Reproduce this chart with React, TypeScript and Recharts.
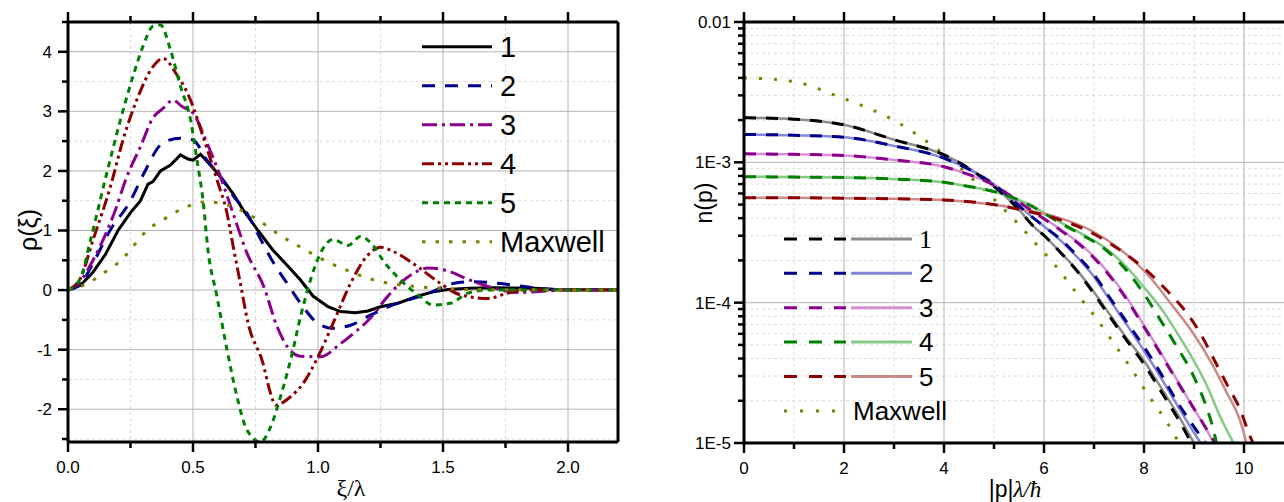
import React from "react";
import { CartesianGrid, Legend, Line, LineChart, XAxis, YAxis } from "recharts";

const SANS = "'Liberation Sans', Arial, Helvetica, sans-serif";
const SERIF = "'Liberation Serif', 'Times New Roman', serif";

type Pt = [number, number];

// ---------- left panel: rho(xi) ----------
const xiTicks = [0, 0.25, 0.5, 0.75, 1, 1.25, 1.5, 1.75, 2];
const xiMajor = [0, 0.5, 1, 1.5, 2];
const xiGridMajor = [0.5, 1, 1.5, 2];
const xiGridMinor = [0.25, 0.75, 1.25, 1.75];
const rhoTicks = [-2.5, -2, -1.5, -1, -0.5, 0, 0.5, 1, 1.5, 2, 2.5, 3, 3.5, 4, 4.5];
const rhoMajor = [-2, -1, 0, 1, 2, 3, 4];
const rhoGridMinor = [-2.5, -1.5, -0.5, 0.5, 1.5, 2.5, 3.5];

const rho1: Pt[] = [
  [0, 0], [0.05, 0.08], [0.1, 0.3], [0.15, 0.6], [0.2, 1.0], [0.25, 1.3], [0.29, 1.5], [0.32, 1.78],
  [0.34, 1.82], [0.37, 2.0], [0.41, 2.1], [0.45, 2.27], [0.48, 2.2], [0.5, 2.18], [0.53, 2.28],
  [0.58, 2.05], [0.62, 1.85], [0.66, 1.62], [0.7, 1.35], [0.76, 1.0], [0.82, 0.67], [0.88, 0.4],
  [0.93, 0.17], [0.98, -0.1], [1.04, -0.28], [1.09, -0.36], [1.15, -0.38], [1.2, -0.35], [1.25, -0.28],
  [1.32, -0.22], [1.4, -0.1], [1.46, -0.03], [1.52, 0.01], [1.6, 0.03], [1.7, 0.04], [1.87, 0.03],
  [1.95, 0.01], [2.2, 0],
];
const rho2: Pt[] = [
  [0, 0], [0.05, 0.1], [0.1, 0.45], [0.168, 1.0], [0.25, 1.5], [0.3, 1.93], [0.38, 2.47], [0.45, 2.55],
  [0.5, 2.52], [0.556, 2.18], [0.61, 1.9], [0.663, 1.57], [0.716, 1.29], [0.757, 0.96], [0.823, 0.45],
  [0.877, 0.11], [0.93, -0.22], [1.0, -0.56], [1.06, -0.64], [1.13, -0.59], [1.21, -0.42], [1.3, -0.25],
  [1.44, -0.06], [1.54, 0.11], [1.62, 0.14], [1.73, 0.11], [1.84, 0.05], [1.95, 0.01], [2.2, 0],
];
const rho3: Pt[] = [
  [0, 0], [0.05, 0.15], [0.1, 0.5], [0.14, 0.84], [0.19, 1.35], [0.235, 1.9], [0.29, 2.41], [0.34, 2.89],
  [0.38, 3.05], [0.42, 3.19], [0.456, 3.08], [0.5, 2.97], [0.556, 2.47], [0.61, 1.9], [0.66, 1.29],
  [0.716, 0.62], [0.783, 0.06], [0.837, -0.62], [0.877, -0.95], [0.93, -1.11], [1.01, -1.12],
  [1.09, -0.9], [1.15, -0.7], [1.21, -0.47], [1.27, -0.15], [1.33, 0.12], [1.39, 0.3], [1.44, 0.37],
  [1.52, 0.32], [1.6, 0.18], [1.68, 0.06], [1.81, -0.04], [1.9, -0.02], [2.0, 0], [2.2, 0],
];
const rho4: Pt[] = [
  [0, 0], [0.05, 0.2], [0.1, 0.84], [0.17, 1.74], [0.22, 2.52], [0.275, 3.19], [0.34, 3.75], [0.38, 3.89],
  [0.436, 3.61], [0.49, 3.19], [0.54, 2.58], [0.596, 1.85], [0.636, 1.29], [0.66, 0.75], [0.69, 0.1],
  [0.72, -0.55], [0.78, -1.23], [0.81, -1.73], [0.83, -1.93], [0.89, -1.79], [0.94, -1.57], [1.0, -1.12],
  [1.06, -0.56], [1.13, 0.11], [1.2, 0.59], [1.25, 0.72], [1.3, 0.65], [1.4, 0.39], [1.49, 0.11],
  [1.57, -0.08], [1.68, -0.14], [1.76, -0.05], [1.85, 0], [2.2, 0],
];
const rho5: Pt[] = [
  [0, 0], [0.05, 0.2], [0.09, 0.84], [0.155, 1.96], [0.21, 2.86], [0.26, 3.59], [0.3, 4.09], [0.34, 4.43],
  [0.37, 4.45], [0.41, 4.03], [0.45, 3.42], [0.49, 2.86], [0.516, 2.18], [0.54, 1.51], [0.56, 0.67],
  [0.596, -0.11], [0.636, -1.0], [0.676, -1.79], [0.716, -2.35], [0.77, -2.55], [0.81, -2.3],
  [0.85, -1.79], [0.89, -1.18], [0.93, -0.45], [0.97, 0.17], [1.01, 0.62], [1.06, 0.85], [1.12, 0.75],
  [1.17, 0.9], [1.22, 0.75], [1.26, 0.5], [1.33, 0.17], [1.4, -0.08], [1.46, -0.25], [1.53, -0.22],
  [1.6, -0.05], [1.68, 0], [2.2, 0],
];
const rhoMaxwell: Pt[] = [
  [0, 0], [0.04, 0.05], [0.08, 0.11], [0.128, 0.25], [0.19, 0.42], [0.235, 0.6], [0.26, 0.73],
  [0.315, 1.0], [0.38, 1.18], [0.476, 1.4], [0.55, 1.48], [0.61, 1.46], [0.676, 1.37], [0.77, 1.15],
  [0.837, 0.95], [0.93, 0.72], [1.05, 0.45], [1.13, 0.31], [1.2, 0.2], [1.29, 0.11], [1.37, 0.07],
  [1.49, 0.03], [1.6, 0.01], [2.2, 0],
];

// ---------- right panel: n(p), log scale ----------
const pTicks = [0, 1, 2, 3, 4, 5, 6, 7, 8, 9, 10];
const pMajor = [0, 2, 4, 6, 8, 10];
const pGridMajor = [2, 4, 6, 8, 10];
const pGridMinor = [1, 3, 5, 7, 9];
const nDecades = [1e-5, 1e-4, 1e-3, 1e-2];
const nDecadeLabels = ["1E-5", "1E-4", "1E-3", "0.01"];
const nMinor = [
  2e-5, 3e-5, 4e-5, 5e-5, 6e-5, 7e-5, 8e-5, 9e-5,
  2e-4, 3e-4, 4e-4, 5e-4, 6e-4, 7e-4, 8e-4, 9e-4,
  2e-3, 3e-3, 4e-3, 5e-3, 6e-3, 7e-3, 8e-3, 9e-3,
];
const nTicks = [...nDecades, ...nMinor].sort((a, b) => a - b);

const n1Dash: Pt[] = [
  [0, 2.08e-3], [1, 2.03e-3], [2, 1.85e-3], [3, 1.45e-3], [4, 1.13e-3], [4.32, 9.9e-4], [4.72, 8.0e-4],
  [5.12, 6.2e-4], [5.45, 4.8e-4], [5.79, 3.5e-4], [6.05, 2.9e-4], [6.32, 2.3e-4], [6.65, 1.7e-4],
  [6.99, 1.17e-4], [7.32, 7.9e-5], [7.65, 5.4e-5], [7.99, 3.7e-5], [8.32, 2.4e-5], [8.65, 1.55e-5],
  [8.95, 1.0e-5],
];
const n1Solid: Pt[] = [
  [0, 2.08e-3], [1, 2.03e-3], [2, 1.85e-3], [3, 1.45e-3], [4, 1.13e-3], [4.32, 9.9e-4], [4.72, 8.0e-4],
  [5.12, 6.2e-4], [5.45, 4.8e-4], [5.79, 3.5e-4], [6.05, 2.9e-4], [6.32, 2.3e-4], [6.65, 1.72e-4],
  [6.99, 1.2e-4], [7.32, 8.2e-5], [7.65, 5.6e-5], [7.99, 3.9e-5], [8.32, 2.55e-5], [8.65, 1.65e-5],
  [9.0, 1.0e-5],
];
const n2Dash: Pt[] = [
  [0, 1.58e-3], [1, 1.56e-3], [2, 1.51e-3], [3, 1.31e-3], [4, 1.07e-3], [4.5, 8.9e-4], [4.99, 7.0e-4],
  [5.32, 5.6e-4], [5.65, 4.4e-4], [6.0, 3.5e-4], [6.32, 2.85e-4], [6.59, 2.3e-4], [6.99, 1.6e-4],
  [7.32, 1.08e-4], [7.65, 7.3e-5], [7.99, 4.9e-5], [8.32, 3.2e-5], [8.65, 2.0e-5], [8.99, 1.32e-5],
  [9.23, 1.0e-5],
];
const n2Solid: Pt[] = [
  [0, 1.58e-3], [1, 1.56e-3], [2, 1.51e-3], [3, 1.31e-3], [4, 1.07e-3], [4.5, 8.9e-4], [4.99, 7.0e-4],
  [5.32, 5.6e-4], [5.65, 4.4e-4], [6.0, 3.5e-4], [6.32, 2.8e-4], [6.59, 2.25e-4], [6.99, 1.55e-4],
  [7.32, 1.04e-4], [7.65, 7.0e-5], [7.99, 4.6e-5], [8.32, 3.0e-5], [8.65, 1.9e-5], [8.99, 1.2e-5],
  [9.13, 1.0e-5],
];
const n3Dash: Pt[] = [
  [0, 1.15e-3], [1, 1.14e-3], [2, 1.12e-3], [3, 1.04e-3], [4, 9.3e-4], [4.32, 8.6e-4], [4.99, 6.9e-4],
  [5.65, 4.8e-4], [6.32, 3.3e-4], [6.79, 2.46e-4], [6.99, 2.1e-4], [7.32, 1.54e-4], [7.65, 1.06e-4],
  [7.99, 6.8e-5], [8.32, 4.4e-5], [8.65, 2.8e-5], [8.99, 1.78e-5], [9.25, 1.26e-5], [9.42, 1.0e-5],
];
const n3Solid: Pt[] = [
  [0, 1.15e-3], [1, 1.14e-3], [2, 1.12e-3], [3, 1.04e-3], [4, 9.3e-4], [4.32, 8.6e-4], [4.99, 6.9e-4],
  [5.65, 4.8e-4], [6.32, 3.35e-4], [6.79, 2.5e-4], [6.99, 2.15e-4], [7.32, 1.58e-4], [7.65, 1.09e-4],
  [7.99, 7.0e-5], [8.32, 4.5e-5], [8.65, 2.85e-5], [8.99, 1.78e-5], [9.25, 1.24e-5], [9.4, 1.0e-5],
];
const n4Dash: Pt[] = [
  [0, 7.9e-4], [1, 7.85e-4], [2, 7.8e-4], [3, 7.6e-4], [4, 7.2e-4], [4.32, 6.9e-4], [4.99, 6.2e-4],
  [5.65, 5.1e-4], [6.32, 3.7e-4], [6.75, 3.05e-4], [7.19, 2.45e-4], [7.65, 1.7e-4], [7.99, 1.17e-4],
  [8.32, 7.6e-5], [8.65, 4.9e-5], [8.99, 3.0e-5], [9.25, 1.8e-5], [9.39, 1.24e-5], [9.45, 1.0e-5],
];
const n4Solid: Pt[] = [
  [0, 7.9e-4], [1, 7.85e-4], [2, 7.8e-4], [3, 7.6e-4], [4, 7.2e-4], [4.32, 6.9e-4], [4.99, 6.2e-4],
  [5.65, 5.1e-4], [6.32, 3.75e-4], [6.75, 3.1e-4], [7.19, 2.5e-4], [7.65, 1.8e-4], [7.99, 1.3e-4],
  [8.32, 9.3e-5], [8.65, 6.2e-5], [8.99, 3.9e-5], [9.25, 2.6e-5], [9.52, 1.55e-5], [9.79, 1.0e-5],
];
const n5Dash: Pt[] = [
  [0, 5.6e-4], [1, 5.6e-4], [2, 5.55e-4], [3, 5.5e-4], [4, 5.4e-4], [4.99, 5.0e-4], [5.65, 4.5e-4],
  [6.32, 3.9e-4], [6.99, 3.1e-4], [7.35, 2.6e-4], [7.65, 2.2e-4], [8.05, 1.7e-4], [8.45, 1.23e-4],
  [8.85, 8.5e-5], [9.12, 6.1e-5], [9.39, 4.0e-5], [9.65, 2.65e-5], [9.92, 1.74e-5], [10.12, 1.12e-5],
  [10.18, 1.0e-5],
];
const n5Solid: Pt[] = [
  [0, 5.6e-4], [1, 5.6e-4], [2, 5.55e-4], [3, 5.5e-4], [4, 5.4e-4], [4.99, 5.0e-4], [5.65, 4.55e-4],
  [6.32, 4.0e-4], [6.99, 3.2e-4], [7.52, 2.4e-4], [8.05, 1.62e-4], [8.59, 9.3e-5], [8.99, 6.0e-5],
  [9.39, 3.5e-5], [9.65, 2.3e-5], [9.92, 1.45e-5], [10.05, 1.0e-5],
];
const nMaxwell: Pt[] = [
  [0, 4.0e-3], [1, 3.76e-3], [1.88, 2.95e-3], [2.45, 2.46e-3], [2.99, 2.0e-3], [3.52, 1.52e-3],
  [4.05, 1.1e-3], [4.52, 7.9e-4], [4.99, 5.5e-4], [5.42, 3.85e-4], [5.85, 2.6e-4], [6.25, 1.8e-4],
  [6.65, 1.17e-4], [7.05, 7.7e-5], [7.42, 5.0e-5], [7.79, 3.2e-5], [8.12, 2.1e-5], [8.49, 1.35e-5],
  [8.7, 1.0e-5],
];

const toRows = (pts: Pt[]) => pts.map(([x, y]) => ({ x, y }));

const leftSeries = [
  { name: "1", data: rho1, color: "#000000", dash: undefined as string | undefined },
  { name: "2", data: rho2, color: "#00008b", dash: "13 10" },
  { name: "3", data: rho3, color: "#8b008b", dash: "15 5 3 5" },
  { name: "4", data: rho4, color: "#8b0000", dash: "12 4 3 4 3 4" },
  { name: "5", data: rho5, color: "#008000", dash: "6 5" },
  { name: "Maxwell", data: rhoMaxwell, color: "#808000", dash: "3.5 10" },
];

const rightSeries = [
  { name: "1", dash: n1Dash, solid: n1Solid, dark: "#000000", light: "#8c8c8c" },
  { name: "2", dash: n2Dash, solid: n2Solid, dark: "#00008b", light: "#8585d6" },
  { name: "3", dash: n3Dash, solid: n3Solid, dark: "#8b008b", light: "#d58fd5" },
  { name: "4", dash: n4Dash, solid: n4Solid, dark: "#008000", light: "#85c985" },
  { name: "5", dash: n5Dash, solid: n5Solid, dark: "#8b0000", light: "#c98a8a" },
];

const axisLine = { stroke: "#000", strokeWidth: 3 };

// custom ticks: tickSize/tickMargin are 0, so x/y arrive on the axis line
const tickFactory =
  (side: "bottom" | "top" | "left", majors: number[], fmt: ((v: number) => string) | null, gap = 6) =>
  (props: any) => {
    const { x, y, payload } = props;
    const v = payload.value;
    const major = majors.includes(v);
    const len = major ? 10 : 6;
    if (side === "left") {
      return (
        <g>
          <line x1={x} y1={y} x2={x - len} y2={y} stroke="#000" strokeWidth={2.5} />
          {major && fmt && (
            <text x={x - len - gap} y={y} dy="0.35em" textAnchor="end" fontSize={17} fontFamily={SANS} fill="#000">
              {fmt(v)}
            </text>
          )}
        </g>
      );
    }
    const dir = side === "top" ? -1 : 1;
    return (
      <g>
        <line x1={x} y1={y} x2={x} y2={y + dir * len} stroke="#000" strokeWidth={2.5} />
        {major && fmt && side === "bottom" && (
          <text x={x} y={y + 31} textAnchor="middle" fontSize={17} fontFamily={SANS} fill="#000">
            {fmt(v)}
          </text>
        )}
      </g>
    );
  };

const fmtLog = (v: number) => nDecadeLabels[nDecades.indexOf(v)] ?? "";

function LeftLegend() {
  return (
    <svg width={210} height={240} style={{ overflow: "visible" }}>
      {leftSeries.map((s, i) => {
        const y = 21.7 + 39 * i;
        return (
          <g key={s.name}>
            <line x1={7} x2={77} y1={y} y2={y} stroke={s.color} strokeWidth={3} strokeDasharray={s.dash} />
            <text x={85} y={y} dy="0.35em" fontSize={29} fontFamily={SANS} fill="#000">
              {s.name}
            </text>
          </g>
        );
      })}
    </svg>
  );
}

function RightLegend() {
  return (
    <svg width={200} height={210} style={{ overflow: "visible" }}>
      {rightSeries.map((s, i) => {
        const y = 18.9 + 34.4 * i;
        return (
          <g key={s.name}>
            <line x1={4} x2={66} y1={y} y2={y} stroke={s.dark} strokeWidth={3} strokeDasharray="13 12" />
            <line x1={71} x2={132} y1={y} y2={y} stroke={s.light} strokeWidth={3} />
            <text x={139} y={y} dy="0.35em" fontSize={26} fontFamily={i === 0 ? SERIF : SANS} fill="#000">
              {s.name}
            </text>
          </g>
        );
      })}
      <line x1={4} x2={56} y1={191} y2={191} stroke="#808000" strokeWidth={3} strokeDasharray="3 13" />
      <text x={73} y={191} dy="0.35em" fontSize={26} fontFamily={SANS} fill="#000">
        Maxwell
      </text>
    </svg>
  );
}

function RhoChart() {
  return (
    <LineChart width={640} height={502} margin={{ top: 12, right: 20, bottom: 20, left: 8 }}>
      <CartesianGrid
        xAxisId="b"
        yAxisId="l"
        stroke="#dadada"
        strokeDasharray="3 3"
        verticalValues={xiGridMinor}
        horizontalValues={rhoGridMinor}
      />
      <CartesianGrid xAxisId="b" yAxisId="l" stroke="#b4b4b4" verticalValues={xiGridMajor} horizontalValues={rhoMajor} />
      <XAxis
        xAxisId="b"
        dataKey="x"
        type="number"
        domain={[0, 2.2]}
        ticks={xiTicks}
        interval={0}
        allowDataOverflow
        height={40}
        tickSize={0}
        tickMargin={0}
        tickLine={false}
        axisLine={axisLine}
        tick={tickFactory("bottom", xiMajor, (v) => v.toFixed(1))}
        label={(p: any) => {
          const vb = p.viewBox || { x: 68, width: 550 };
          return (
            <text x={vb.x + vb.width / 2 + 8} y={496} textAnchor="middle" fontSize={24} fontFamily={SERIF} fill="#000">
              ξ/λ
            </text>
          );
        }}
      />
      <XAxis
        xAxisId="t"
        orientation="top"
        dataKey="x"
        type="number"
        domain={[0, 2.2]}
        ticks={xiTicks}
        interval={0}
        allowDataOverflow
        height={10}
        tickSize={0}
        tickMargin={0}
        tickLine={false}
        axisLine={axisLine}
        tick={tickFactory("top", xiMajor, null)}
      />
      <YAxis
        yAxisId="l"
        type="number"
        domain={[-2.55, 4.5]}
        ticks={rhoTicks}
        interval={0}
        allowDataOverflow
        width={60}
        tickSize={0}
        tickMargin={0}
        tickLine={false}
        axisLine={axisLine}
        tick={tickFactory("left", rhoMajor, (v) => String(v), 6)}
        label={(p: any) => {
          const vb = p.viewBox || { x: 8, y: 22, height: 420 };
          const cx = vb.x + 20;
          const cy = vb.y + vb.height / 2 - 2;
          return (
            <text
              x={cx}
              y={cy}
              transform={`rotate(-90 ${cx} ${cy})`}
              textAnchor="middle"
              dy="0.35em"
              fontSize={25}
              fontFamily={SANS}
              fill="#000"
            >
              ρ(ξ)
            </text>
          );
        }}
      />
      <YAxis
        yAxisId="r"
        orientation="right"
        type="number"
        domain={[-2.55, 4.5]}
        allowDataOverflow
        width={2}
        tick={false}
        tickLine={false}
        axisLine={axisLine}
      />
      {leftSeries.map((s) => (
        <Line
          key={s.name}
          xAxisId="b"
          yAxisId="l"
          data={toRows(s.data)}
          dataKey="y"
          name={s.name}
          type={s.name === "1" ? "linear" : "monotone"}
          stroke={s.color}
          strokeWidth={3}
          strokeDasharray={s.dash}
          dot={false}
          activeDot={false}
          isAnimationActive={false}
        />
      ))}
      <Legend
        layout="vertical"
        align="center"
        verticalAlign="middle"
        wrapperStyle={{ left: 415, top: 25, width: 210, height: 240 }}
        content={() => <LeftLegend />}
      />
    </LineChart>
  );
}

function NChart() {
  return (
    <LineChart width={640} height={502} margin={{ top: 12, right: 0, bottom: 19, left: 20 }}>
      <CartesianGrid
        xAxisId="b"
        yAxisId="l"
        stroke="#dadada"
        strokeDasharray="3 3"
        verticalValues={pGridMinor}
        horizontalValues={nMinor}
      />
      <CartesianGrid xAxisId="b" yAxisId="l" stroke="#b4b4b4" verticalValues={pGridMajor} horizontalValues={nDecades} />
      <XAxis
        xAxisId="b"
        dataKey="x"
        type="number"
        domain={[0, 10.8]}
        ticks={pTicks}
        interval={0}
        allowDataOverflow
        height={40}
        tickSize={0}
        tickMargin={0}
        tickLine={false}
        axisLine={axisLine}
        tick={tickFactory("bottom", pMajor, (v) => String(v))}
        label={(p: any) => {
          const vb = p.viewBox || { x: 100, width: 540 };
          return (
            <text x={vb.x + vb.width / 2 + 1} y={497} textAnchor="middle" fontSize={23} fill="#000">
              <tspan fontFamily={SANS}>|p|</tspan>
              <tspan fontFamily={SERIF} fontStyle="italic">
                λ/ħ
              </tspan>
            </text>
          );
        }}
      />
      <XAxis
        xAxisId="t"
        orientation="top"
        dataKey="x"
        type="number"
        domain={[0, 10.8]}
        ticks={pTicks}
        interval={0}
        allowDataOverflow
        height={10}
        tickSize={0}
        tickMargin={0}
        tickLine={false}
        axisLine={axisLine}
        tick={tickFactory("top", pMajor, null)}
      />
      <YAxis
        yAxisId="l"
        type="number"
        scale="log"
        domain={[1e-5, 1e-2]}
        ticks={nTicks}
        interval={0}
        allowDataOverflow
        width={80}
        tickSize={0}
        tickMargin={0}
        tickLine={false}
        axisLine={axisLine}
        tick={tickFactory("left", nDecades, fmtLog, 3)}
        label={(p: any) => {
          const vb = p.viewBox || { x: 20, y: 22, height: 421 };
          const cx = vb.x + 40;
          const cy = vb.y + 181;
          return (
            <text
              x={cx}
              y={cy}
              transform={`rotate(-90 ${cx} ${cy})`}
              textAnchor="middle"
              dy="0.35em"
              fontSize={23}
              fontFamily={SANS}
              fill="#000"
            >
              n(p)
            </text>
          );
        }}
      />
      <Line
        xAxisId="b"
        yAxisId="l"
        data={toRows(nMaxwell)}
        dataKey="y"
        name="Maxwell"
        type="monotone"
        stroke="#808000"
        strokeWidth={3}
        strokeDasharray="3 12"
        dot={false}
        activeDot={false}
        isAnimationActive={false}
      />
      {rightSeries.map((s) => (
        <Line
          key={`solid-${s.name}`}
          xAxisId="b"
          yAxisId="l"
          data={toRows(s.solid)}
          dataKey="y"
          name={`${s.name} fit`}
          type="monotone"
          stroke={s.light}
          strokeWidth={2.5}
          dot={false}
          activeDot={false}
          isAnimationActive={false}
        />
      ))}
      {rightSeries.map((s) => (
        <Line
          key={`dash-${s.name}`}
          xAxisId="b"
          yAxisId="l"
          data={toRows(s.dash)}
          dataKey="y"
          name={s.name}
          type="monotone"
          stroke={s.dark}
          strokeWidth={3}
          strokeDasharray="12 10"
          dot={false}
          activeDot={false}
          isAnimationActive={false}
        />
      ))}
      <Legend
        layout="vertical"
        align="center"
        verticalAlign="middle"
        wrapperStyle={{ left: 136, top: 220, width: 200, height: 210 }}
        content={() => <RightLegend />}
      />
    </LineChart>
  );
}

export default function App() {
  return (
    <div
      style={{
        position: "absolute",
        left: 0,
        top: 0,
        width: 1284,
        height: 502,
        background: "#fff",
        fontFamily: SANS,
        overflow: "hidden",
      }}
    >
      <div style={{ position: "absolute", left: 0, top: 0 }}>
        <RhoChart />
      </div>
      <div style={{ position: "absolute", left: 644, top: 0 }}>
        <NChart />
      </div>
    </div>
  );
}
